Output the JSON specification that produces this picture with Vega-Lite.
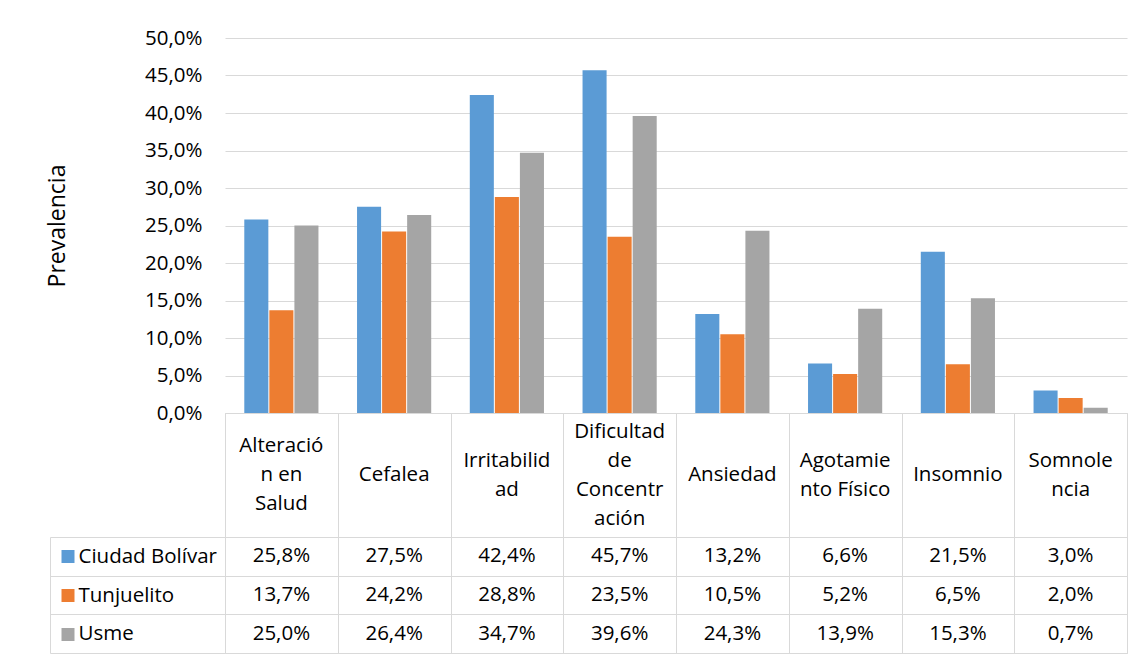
{
  "$schema": "https://vega.github.io/schema/vega-lite/v6.json",
  "padding": {"left": 46, "top": 28, "right": 10, "bottom": 0},
  "background": "white",
  "spacing": 0,
  "bounds": "flush",
  "config": {
    "locale": {"number": {"decimal": ",", "thousands": ".", "grouping": [3], "currency": ["$", ""]}},
    "font": "Open Sans",
    "view": {"stroke": null},
    "axis": {"labelFont": "Open Sans", "labelColor": "black", "titleFont": "Open Sans", "titleColor": "black"},
    "text": {"font": "Open Sans", "color": "black"}
  },
  "datasets": {
    "prev": [
      {"sintoma": "Alteración en Salud", "localidad": "Ciudad Bolívar", "valor": 0.258},
      {"sintoma": "Cefalea", "localidad": "Ciudad Bolívar", "valor": 0.275},
      {"sintoma": "Irritabilidad", "localidad": "Ciudad Bolívar", "valor": 0.424},
      {"sintoma": "Dificultad de Concentración", "localidad": "Ciudad Bolívar", "valor": 0.457},
      {"sintoma": "Ansiedad", "localidad": "Ciudad Bolívar", "valor": 0.132},
      {"sintoma": "Agotamiento Físico", "localidad": "Ciudad Bolívar", "valor": 0.066},
      {"sintoma": "Insomnio", "localidad": "Ciudad Bolívar", "valor": 0.215},
      {"sintoma": "Somnolencia", "localidad": "Ciudad Bolívar", "valor": 0.03},
      {"sintoma": "Alteración en Salud", "localidad": "Tunjuelito", "valor": 0.137},
      {"sintoma": "Cefalea", "localidad": "Tunjuelito", "valor": 0.242},
      {"sintoma": "Irritabilidad", "localidad": "Tunjuelito", "valor": 0.288},
      {"sintoma": "Dificultad de Concentración", "localidad": "Tunjuelito", "valor": 0.235},
      {"sintoma": "Ansiedad", "localidad": "Tunjuelito", "valor": 0.105},
      {"sintoma": "Agotamiento Físico", "localidad": "Tunjuelito", "valor": 0.052},
      {"sintoma": "Insomnio", "localidad": "Tunjuelito", "valor": 0.065},
      {"sintoma": "Somnolencia", "localidad": "Tunjuelito", "valor": 0.02},
      {"sintoma": "Alteración en Salud", "localidad": "Usme", "valor": 0.25},
      {"sintoma": "Cefalea", "localidad": "Usme", "valor": 0.264},
      {"sintoma": "Irritabilidad", "localidad": "Usme", "valor": 0.347},
      {"sintoma": "Dificultad de Concentración", "localidad": "Usme", "valor": 0.396},
      {"sintoma": "Ansiedad", "localidad": "Usme", "valor": 0.243},
      {"sintoma": "Agotamiento Físico", "localidad": "Usme", "valor": 0.139},
      {"sintoma": "Insomnio", "localidad": "Usme", "valor": 0.153},
      {"sintoma": "Somnolencia", "localidad": "Usme", "valor": 0.007}
    ],
    "cats": [
      {"sintoma": "Alteración en Salud", "etiqueta": "Alteració\nn en\nSalud"},
      {"sintoma": "Cefalea", "etiqueta": "Cefalea"},
      {"sintoma": "Irritabilidad", "etiqueta": "Irritabilid\nad"},
      {"sintoma": "Dificultad de Concentración", "etiqueta": "Dificultad\nde\nConcentr\nación"},
      {"sintoma": "Ansiedad", "etiqueta": "Ansiedad"},
      {"sintoma": "Agotamiento Físico", "etiqueta": "Agotamie\nnto Físico"},
      {"sintoma": "Insomnio", "etiqueta": "Insomnio"},
      {"sintoma": "Somnolencia", "etiqueta": "Somnole\nncia"}
    ]
  },
  "resolve": {"scale": {"x": "independent", "y": "independent", "color": "independent"}},
  "vconcat": [
    {
      "width": 902,
      "height": 375,
      "data": {"name": "prev"},
      "mark": {"type": "bar"},
      "encoding": {
        "x": {"field": "sintoma", "type": "nominal", "sort": ["Alteración en Salud", "Cefalea", "Irritabilidad", "Dificultad de Concentración", "Ansiedad", "Agotamiento Físico", "Insomnio", "Somnolencia"], "scale": {"paddingInner": 0, "paddingOuter": 0}, "axis": null},
        "xOffset": {"field": "localidad", "type": "nominal", "sort": ["Ciudad Bolívar", "Tunjuelito", "Usme"], "scale": {"paddingInner": 0.04, "paddingOuter": 0.77}},
        "y": {"field": "valor", "type": "quantitative", "scale": {"domain": [0, 0.5], "nice": false},
          "axis": {"format": ".1%", "values": [0, 0.05, 0.1, 0.15, 0.2, 0.25, 0.3, 0.35, 0.4, 0.45, 0.5], "grid": true, "gridColor": "#D9D9D9", "gridWidth": 1, "domain": false, "ticks": false, "labelPadding": 23, "labelFontSize": 20.5, "title": "Prevalencia", "titleFontSize": 23, "titleFontWeight": "normal", "titlePadding": 75}},
        "color": {"field": "localidad", "type": "nominal", "sort": ["Ciudad Bolívar", "Tunjuelito", "Usme"], "scale": {"domain": ["Ciudad Bolívar", "Tunjuelito", "Usme"], "range": ["#5B9BD5", "#ED7D31", "#A5A5A5"]}, "legend": null}
      }
    },
    {
      "width": 902,
      "height": 124,
      "data": {"name": "cats"},
      "view": {"stroke": "#D9D9D9"},
      "mark": {"type": "text", "fontSize": 20.5, "lineBreak": "\n", "lineHeight": 29, "baseline": "middle", "align": "center",
        "dy": {"expr": "-(length(split(datum.etiqueta, '\\n')) - 1) * 14.5"}},
      "encoding": {
        "x": {"field": "sintoma", "type": "nominal", "sort": ["Alteración en Salud", "Cefalea", "Irritabilidad", "Dificultad de Concentración", "Ansiedad", "Agotamiento Físico", "Insomnio", "Somnolencia"], "scale": {"paddingInner": 0, "paddingOuter": 0},
          "axis": {"tickBand": "extent", "grid": true, "gridColor": "#D9D9D9", "labels": false, "ticks": false, "domain": false, "title": null}},
        "text": {"field": "etiqueta", "type": "nominal"}
      }
    },
    {
      "width": 902,
      "height": 116,
      "data": {"name": "prev"},
      "view": {"stroke": "#D9D9D9"},
      "layer": [
        {
          "mark": {"type": "text", "fontSize": 20.5, "baseline": "middle", "align": "center"},
          "encoding": {
            "x": {"field": "sintoma", "type": "nominal", "sort": ["Alteración en Salud", "Cefalea", "Irritabilidad", "Dificultad de Concentración", "Ansiedad", "Agotamiento Físico", "Insomnio", "Somnolencia"], "scale": {"paddingInner": 0, "paddingOuter": 0},
              "axis": {"tickBand": "extent", "grid": true, "gridColor": "#D9D9D9", "labels": false, "ticks": false, "domain": false, "title": null}},
            "y": {"field": "localidad", "type": "nominal", "sort": ["Ciudad Bolívar", "Tunjuelito", "Usme"], "scale": {"paddingInner": 0, "paddingOuter": 0},
              "axis": {"orient": "left", "offset": 175, "domain": true, "domainColor": "#D9D9D9", "ticks": true, "tickBand": "extent", "tickSize": -175, "tickColor": "#D9D9D9", "grid": true, "gridColor": "#D9D9D9", "labelAlign": "left", "labelBaseline": "middle", "labelPadding": 147, "labelFontSize": 20.5, "title": null}},
            "text": {"field": "valor", "type": "quantitative", "format": ".1%"}
          }
        },
        {
          "mark": {"type": "point", "opacity": 0},
          "encoding": {
            "y": {"field": "localidad", "type": "nominal", "sort": ["Ciudad Bolívar", "Tunjuelito", "Usme"], "scale": {"paddingInner": 0, "paddingOuter": 0},
              "axis": {"orient": "left", "offset": 151, "domain": false, "labels": false, "grid": false, "ticks": true, "tickSize": 13, "tickWidth": 13,
                "tickColor": {"condition": [{"test": "datum.value === 'Ciudad Bolívar'", "value": "#5B9BD5"}, {"test": "datum.value === 'Tunjuelito'", "value": "#ED7D31"}], "value": "#A5A5A5"}, "title": null}}
          }
        }
      ],
      "resolve": {"scale": {"y": "independent"}, "axis": {"y": "independent"}}
    }
  ]
}
